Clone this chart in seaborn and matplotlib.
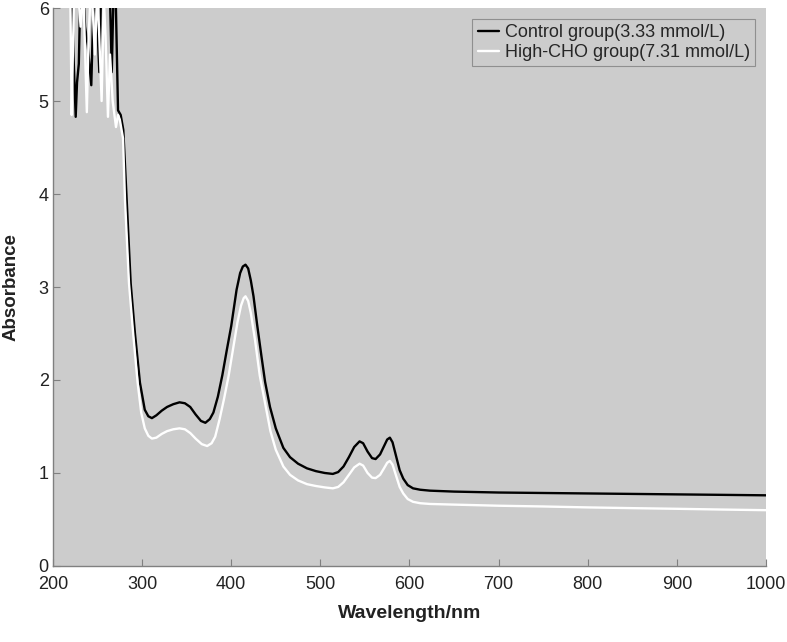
import numpy as np
import pandas as pd
import matplotlib
matplotlib.use("Agg")
import matplotlib.pyplot as plt
import seaborn as sns

# ---------------- data ----------------
ctrl_label = "Control group(3.33 mmol/L)"
cho_label = "High-CHO group(7.31 mmol/L)"

ctrl_nm = [215, 218, 221, 223, 225.5, 227, 229, 231, 233, 236, 239, 243, 245, 247, 249, 252, 254,
           258, 262, 264, 266, 268, 270, 273, 276, 278.9, 282.7, 287.2, 292, 297.6, 303, 307, 311,
           316, 322, 328, 335, 342, 348, 354, 360, 366, 371, 376, 380, 385, 390, 395, 400, 406,
           410, 413, 416, 419, 422, 425, 429, 434, 438, 443.5, 450, 458.5, 466, 475, 485, 495,
           505, 514, 520, 526, 532, 538, 544, 548, 553, 558, 562, 567, 572, 575, 578, 581, 585,
           589, 593, 598, 604, 612, 623, 650, 700, 750, 800, 850, 900, 950, 1000]
ctrl_abs = [7.0, 6.5, 6.2, 5.5, 4.83, 5.2, 5.4, 6.3, 6.4, 5.8, 5.6, 5.17, 5.9, 6.3, 6.0, 5.31, 6.2,
            6.3, 6.2, 6.1, 5.31, 6.2, 6.3, 4.9, 4.85, 4.69, 3.94, 3.04, 2.5, 1.97, 1.68, 1.61, 1.59,
            1.62, 1.67, 1.71, 1.74, 1.76, 1.75, 1.71, 1.63, 1.56, 1.54, 1.58, 1.65, 1.82, 2.05, 2.32,
            2.58, 2.97, 3.15, 3.22, 3.24, 3.20, 3.07, 2.90, 2.60, 2.25, 1.98, 1.71, 1.48, 1.27, 1.17,
            1.10, 1.05, 1.02, 1.00, 0.99, 1.01, 1.07, 1.17, 1.28, 1.34, 1.32, 1.23, 1.16, 1.15, 1.20,
            1.30, 1.36, 1.38, 1.33, 1.18, 1.03, 0.94, 0.87, 0.835, 0.82, 0.81, 0.80, 0.79, 0.785,
            0.78, 0.775, 0.77, 0.765, 0.76]

cho_nm = [215, 219, 221, 222.5, 224, 228, 231, 234, 238, 240, 243, 247, 250, 254.6, 257, 259,
          261.7, 264, 267, 270.7, 273, 275, 278.6, 280.8, 285.3, 290, 295, 299, 303, 307, 311,
          316, 322, 328, 335, 342, 348, 354, 360, 367, 373, 378, 382, 387, 392, 397, 402, 407,
          411, 414, 416, 419, 422, 426.7, 432, 438, 444, 450, 458.5, 466, 475, 485, 495, 505,
          514, 520, 526, 532, 538, 544, 548, 553, 558, 562, 567, 572, 575, 578, 581, 585, 589,
          593, 598, 604, 612, 623, 650, 700, 750, 800, 850, 900, 950, 1000]
cho_abs = [7.0, 6.5, 4.85, 5.6, 6.3, 6.2, 5.8, 6.2, 4.88, 5.7, 6.3, 5.5, 6.2, 5.0, 6.1, 5.7,
           4.83, 5.5, 5.0, 4.72, 4.85, 4.8, 4.6, 3.94, 3.04, 2.5, 1.97, 1.65, 1.48, 1.40, 1.37,
           1.38, 1.42, 1.45, 1.47, 1.48, 1.47, 1.43, 1.37, 1.31, 1.29, 1.32, 1.39, 1.58, 1.80,
           2.04, 2.33, 2.62, 2.80, 2.88, 2.90, 2.85, 2.72, 2.43, 2.05, 1.75, 1.45, 1.25, 1.07,
           0.98, 0.92, 0.88, 0.86, 0.845, 0.835, 0.85, 0.90, 0.98, 1.06, 1.10, 1.08, 1.00, 0.95,
           0.945, 0.98, 1.06, 1.11, 1.13, 1.09, 0.97, 0.85, 0.78, 0.72, 0.69, 0.675, 0.667, 0.66,
           0.648, 0.64, 0.63, 0.622, 0.615, 0.607, 0.60]

x_ticks = [200, 300, 400, 500, 600, 700, 800, 900, 1000]
y_ticks = [0, 1, 2, 3, 4, 5, 6]

df = pd.concat([
    pd.DataFrame({"Wavelength": ctrl_nm, "Absorbance": ctrl_abs, "group": ctrl_label}),
    pd.DataFrame({"Wavelength": cho_nm, "Absorbance": cho_abs, "group": cho_label}),
], ignore_index=True)

# ---------------- plot ----------------
sns.set_theme(style="white")
plt.rcParams["font.family"] = ["Liberation Sans", "DejaVu Sans"]

fig = plt.figure(figsize=(7.87, 6.42), dpi=100)
ax = fig.add_axes([0.0673, 0.1184, 0.906, 0.8691])
ax.set_facecolor("#cccccc")

sns.lineplot(data=df, x="Wavelength", y="Absorbance", hue="group",
             palette={ctrl_label: "black", cho_label: "white"},
             estimator=None, sort=False, linewidth=1.7, ax=ax)

ax.set_xlim(200, 1000)
ax.set_ylim(0, 6)
ax.set_xticks(x_ticks)
ax.set_yticks(y_ticks)
ax.tick_params(axis="both", direction="in", length=5, width=0.8, color="#808080",
               labelsize=13, labelcolor="#222222", bottom=True, left=True)
ax.tick_params(axis="x", pad=7)
ax.tick_params(axis="y", pad=3)

for s in ["top", "right"]:
    ax.spines[s].set_visible(False)
for s in ["left", "bottom"]:
    ax.spines[s].set_visible(True)
    ax.spines[s].set_color("#808080")
    ax.spines[s].set_linewidth(1.0)

ax.set_xlabel("Wavelength/nm", fontsize=14, fontweight="bold", color="#222222", labelpad=9)
ax.set_ylabel("Absorbance", fontsize=13.5, fontweight="bold", color="#222222", labelpad=14)

handles, labels = ax.get_legend_handles_labels()
leg = ax.legend(handles, labels, loc="upper right", fontsize=13, frameon=True,
                fancybox=False, handlelength=1.2, handletextpad=0.3, borderpad=0.3,
                labelspacing=0.15, borderaxespad=0.6, facecolor="#cccccc",
                edgecolor="#808080")
leg.get_frame().set_linewidth(0.8)

fig.savefig("out.png", dpi=100)
